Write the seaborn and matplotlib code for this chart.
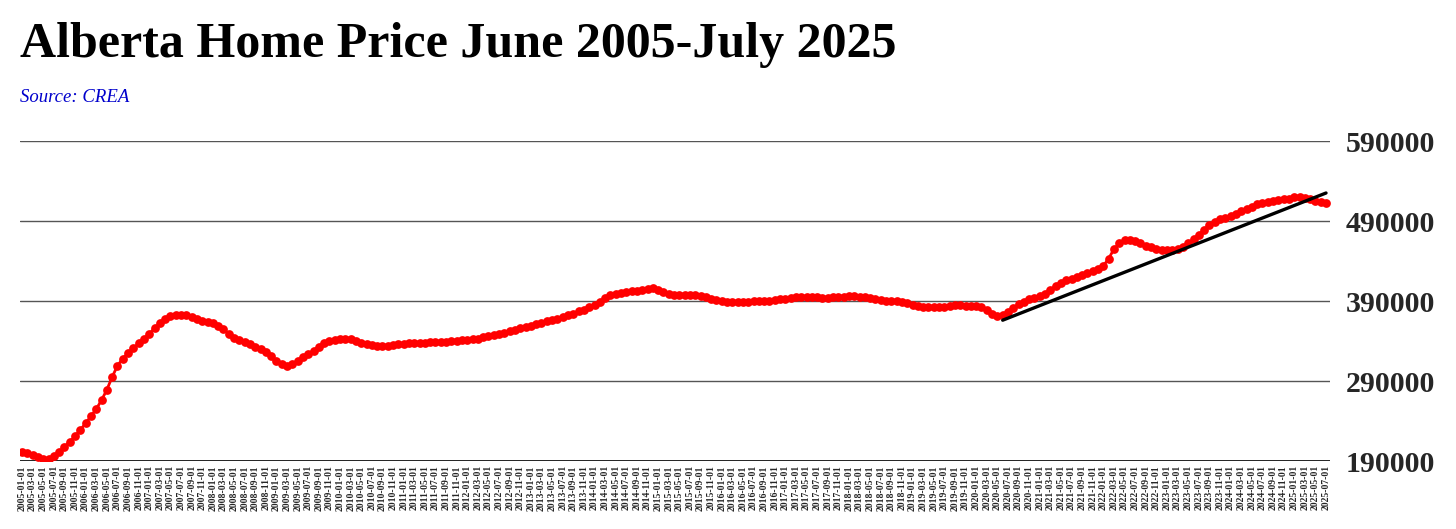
import numpy as np
import pandas as pd
import matplotlib
matplotlib.use("Agg")
import matplotlib.pyplot as plt
import seaborn as sns

# ---------------- data (thousands of CAD), monthly 2005-01 .. 2025-07 ----------------
dates = pd.date_range("2005-01-01", "2025-07-01", freq="MS").strftime("%Y-%m-%d").tolist()

price_k = [
    201, 200, 198, 195, 192, 193, 196, 201, 208, 214, 221, 229,   # 2005
    237, 246, 255, 266, 279, 295, 309, 318, 325, 331, 337, 343,   # 2006
    349, 356, 362, 367, 371, 373, 373, 372, 370, 367, 365, 364,   # 2007
    362, 359, 355, 349, 344, 341, 339, 336, 333, 330, 326, 321,   # 2008
    315, 311, 309, 311, 315, 320, 324, 328, 333, 338, 340, 341,   # 2009
    342, 343, 342, 340, 338, 336, 335, 334, 334, 334, 335, 336,   # 2010
    336, 337, 337, 338, 338, 339, 339, 339, 339, 340, 340, 341,   # 2011
    341, 342, 343, 345, 346, 347, 349, 350, 352, 354, 356, 357,   # 2012
    359, 361, 363, 365, 366, 368, 370, 372, 374, 377, 379, 382,   # 2013
    385, 389, 394, 397, 399, 400, 401, 402, 403, 404, 405, 406,   # 2014
    404, 401, 399, 398, 398, 398, 398, 397, 396, 395, 393, 391,   # 2015
    390, 389, 389, 389, 389, 389, 390, 390, 390, 390, 391, 392,   # 2016
    393, 394, 395, 395, 395, 395, 395, 394, 394, 395, 395, 395,   # 2017
    396, 396, 395, 395, 394, 393, 391, 390, 390, 390, 389, 387,   # 2018
    385, 384, 383, 383, 383, 383, 383, 384, 385, 385, 384, 384,   # 2019
    384, 382, 379, 374, 371, 372, 376, 381, 386, 389, 392, 394,   # 2020
    396, 399, 404, 409, 413, 416, 418, 420, 422, 425, 427, 430,   # 2021
    434, 443, 455, 462, 466, 466, 465, 462, 459, 457, 455, 454,   # 2022
    454, 454, 455, 458, 462, 467, 473, 479, 485, 489, 492, 494,   # 2023
    496, 499, 502, 505, 508, 511, 513, 514, 515, 516, 517, 518,   # 2024
    520, 520, 519, 517, 515, 514, 513,                            # 2025
]

trend_dates = ["2020-06-01", "2025-07-01"]
trend_k = [366, 525]

y_ticks = [190000, 290000, 390000, 490000, 590000]
tick_labels = dates[::2]

title = "Alberta Home Price June 2005-July 2025"
source = "Source: CREA"

# ---------------- build frames ----------------
df = pd.DataFrame({"date": dates, "price": np.array(price_k) * 1000})
df["pos"] = np.arange(len(df))
pos_of = {d: i for i, d in enumerate(dates)}
tdf = pd.DataFrame({"pos": [pos_of[d] for d in trend_dates],
                    "price": np.array(trend_k) * 1000})

# ---------------- plot ----------------
sns.set_theme(style="white")
plt.rcParams["font.family"] = ["Liberation Serif", "DejaVu Serif"]

fig = plt.figure(figsize=(14.56, 5.29), dpi=100)
ax = fig.add_axes([20 / 1456, 1 - 461 / 529, 1310 / 1456, 320 / 529])

for yv in y_ticks:
    ax.axhline(yv, color="#222222" if yv == y_ticks[0] else "#555555",
               linewidth=1.4 if yv == y_ticks[0] else 1.0, zorder=1)

sns.lineplot(data=df, x="pos", y="price", ax=ax, color="#ff0000",
             marker="o", markersize=6.3, markeredgewidth=0, linewidth=2.0,
             zorder=3)
sns.lineplot(data=tdf, x="pos", y="price", ax=ax, color="black",
             linewidth=2.4, zorder=4)

ax.set_xlim(-0.38, len(dates) - 1 + 0.75)
ax.set_ylim(y_ticks[0], y_ticks[-1])
ax.set_xticks(np.arange(0, len(dates), 2))
ax.set_xticklabels(tick_labels, rotation=90, fontsize=6.9, fontweight="bold")
ax.yaxis.tick_right()
ax.set_yticks(y_ticks)
ax.set_yticklabels([str(v) for v in y_ticks], fontsize=21.5, fontweight="bold")
ax.tick_params(axis="y", length=0, pad=11)
ax.tick_params(axis="x", length=0, pad=3)
ax.set_xlabel("")
ax.set_ylabel("")
for s in ax.spines.values():
    s.set_visible(False)

fig.text(20 / 1456, 1 - 57 / 529, title, fontsize=36, fontweight="bold",
         ha="left", va="baseline", color="black")
fig.text(20 / 1456, 1 - 102 / 529, source, fontsize=13.5, style="italic",
         ha="left", va="baseline", color="#0000cc")

fig.savefig("out.png", dpi=100, facecolor="white")
